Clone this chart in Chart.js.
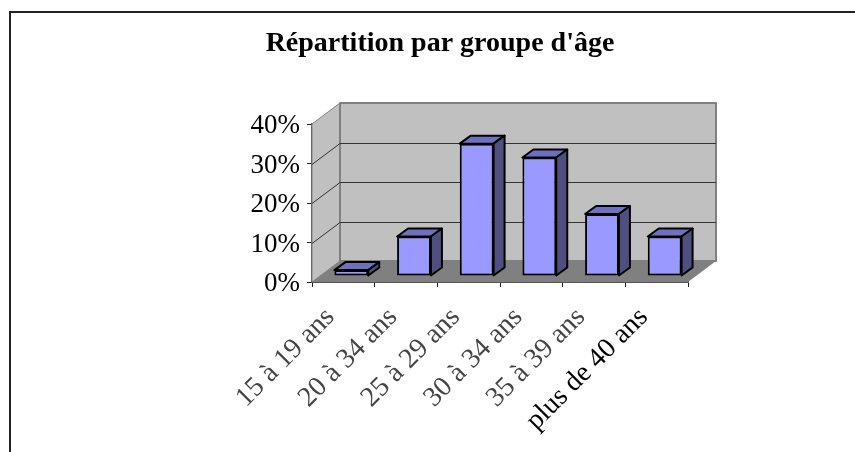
<!DOCTYPE html>
<html lang="fr">
<head>
<meta charset="utf-8">
<title>Répartition par groupe d'âge</title>
<script src="https://cdn.jsdelivr.net/npm/chart.js@4"></script>
<style>
  body { margin: 0; background: #fff; }
  #frame { position: absolute; left: 9px; top: 11px; width: 846px; height: 441px; border-top: 2px solid #222; border-left: 2px solid #222; box-sizing: border-box; }
  canvas { position: absolute; left: 0; top: 0; }
</style>
</head>
<body>
<div id="frame"></div>
<canvas id="ageChart" width="855" height="452"></canvas>
<script>
const categories = ["15 à 19 ans", "20 à 34 ans", "25 à 29 ans", "30 à 34 ans", "35 à 39 ans", "plus de 40 ans"];
const shares = [1.5, 10, 33.5, 30, 15.7, 10];
const yTicks = [0, 10, 20, 30, 40];

// 3D look: the plot box and the bars are pushed back by these offsets
const wallDepth = { x: 28, y: 21 };
const barShift = { x: 8, y: 6 };
const barDepth = { x: 11, y: 8 };

const fillPoly = (ctx, points, fill, stroke, lineWidth) => {
    ctx.beginPath();
    points.forEach(([x, y], i) => i ? ctx.lineTo(x, y) : ctx.moveTo(x, y));
    ctx.closePath();
    ctx.fillStyle = fill;
    ctx.fill();
    if (stroke) {
        ctx.strokeStyle = stroke;
        ctx.lineWidth = lineWidth;
        ctx.lineJoin = "round";
        ctx.stroke();
    }
};

const boxPlugin = {
    id: "box3d",
    beforeDatasetsDraw(chart) {
        const { ctx, chartArea: { left, right, top, bottom }, scales: { y } } = chart;
        const dx = wallDepth.x, dy = wallDepth.y;
        ctx.save();
        // side wall, back wall, floor
        fillPoly(ctx, [[left, bottom], [left + dx, bottom - dy], [left + dx, top - dy], [left, top]], "#c0c0c0", "#808080", 1);
        fillPoly(ctx, [[left + dx, bottom - dy], [right + dx, bottom - dy], [right + dx, top - dy], [left + dx, top - dy]], "#c0c0c0", "#808080", 2);
        fillPoly(ctx, [[left, bottom], [right, bottom], [right + dx, bottom - dy], [left + dx, bottom - dy]], "#808080");
        // grid lines run along the side wall then the back wall
        ctx.strokeStyle = "#333";
        ctx.lineWidth = 1;
        yTicks.slice(1, -1).forEach(value => {
            const py = Math.round(y.getPixelForValue(value)) + 0.5;
            ctx.beginPath();
            ctx.moveTo(left, py);
            ctx.lineTo(left + dx, py - dy);
            ctx.lineTo(right + dx, py - dy);
            ctx.stroke();
        });
        ctx.restore();
    },
    beforeDatasetDraw(chart, args) {
        const { ctx } = chart;
        ctx.save();
        ctx.translate(barShift.x, -barShift.y);
        chart.getDatasetMeta(args.index).data.forEach(bar => {
            const l = bar.x - bar.width / 2, r = bar.x + bar.width / 2;
            const t = bar.y, b = bar.base;
            const dx = barDepth.x, dy = barDepth.y;
            fillPoly(ctx, [[l, t], [r, t], [r + dx, t - dy], [l + dx, t - dy]], "#7070c0", "#000", 2);
            fillPoly(ctx, [[r, t], [r + dx, t - dy], [r + dx, b - dy], [r, b]], "#505080", "#000", 2);
        });
    },
    afterDatasetDraw(chart) {
        chart.ctx.restore();
    }
};

new Chart(document.getElementById("ageChart"), {
    type: "bar",
    data: {
        labels: categories,
        datasets: [{
            data: shares,
            backgroundColor: "#9999ff",
            borderColor: "#000",
            borderWidth: 2,
            borderSkipped: false,
            categoryPercentage: 1,
            barPercentage: 0.54,
        }]
    },
    options: {
        responsive: false,
        animation: false,
        layout: { padding: { left: 192, right: 167, top: 0, bottom: 0 } },
        plugins: {
            legend: { display: false },
            tooltip: { enabled: false },
            title: {
                display: true,
                text: "Répartition par groupe d'âge",
                color: "#000",
                font: { family: "Liberation Serif", size: 28, weight: "bold", lineHeight: 1 },
                padding: { top: 30, bottom: 66 },
            },
        },
        scales: {
            x: {
                afterFit: scale => { scale.height = 170; },
                border: { color: "#555", width: 2 },
                grid: { drawOnChartArea: false, drawTicks: true, tickLength: 5, color: "#222" },
                ticks: {
                    autoSkip: false,
                    minRotation: 45,
                    maxRotation: 45,
                    padding: 14,
                    labelOffset: -13,
                    color: ctx => ctx.index < 5 ? "#444" : "#000",
                    font: { family: "Liberation Serif", size: 28 },
                },
            },
            y: {
                min: 0,
                max: 40,
                afterFit: scale => { scale.width = 120; },
                afterBuildTicks: scale => { scale.ticks = yTicks.map(value => ({ value })); },
                border: { color: "#555", width: 2 },
                grid: { drawOnChartArea: false, drawTicks: true, tickLength: 5, color: "#222" },
                ticks: {
                    padding: 7,
                    labelOffset: 2,
                    color: "#000",
                    callback: value => value + "%",
                    font: { family: "Liberation Serif", size: 27 },
                },
            },
        },
    },
    plugins: [boxPlugin],
});
</script>
</body>
</html>
